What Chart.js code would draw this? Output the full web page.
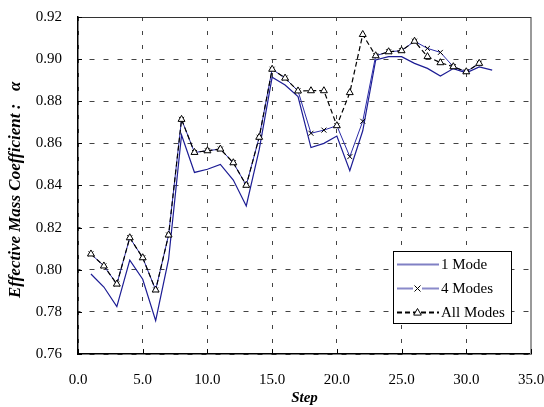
<!DOCTYPE html>
<html lang="en">
<head>
  <meta charset="UTF-8" />
  <title>Effective Mass Coefficient</title>
  <style>
    body {
      margin: 0;
      background: #fff;
    }
    #wrap {
      width: 544px;
      height: 407px;
    }
  </style>
  <script src="https://cdn.jsdelivr.net/npm/chart.js"></script>
</head>
<body>
  <div id="wrap"><canvas id="massChart" width="544" height="407"></canvas></div>

  <script>
    const steps = [1, 2, 3, 4, 5, 6, 7, 8, 9, 10, 11, 12, 13, 14, 15, 16,
                   17, 18, 19, 20, 21, 22, 23, 24, 25, 26, 27, 28, 29, 30, 31, 32];

    const oneMode = [0.798, 0.7918, 0.7825, 0.8046, 0.7955, 0.7758, 0.8050, 0.8640,
                     0.8462, 0.8477, 0.8500, 0.8426, 0.8303, 0.8570, 0.8914, 0.8877,
                     0.8822, 0.8580, 0.8600, 0.8635, 0.8470, 0.8660, 0.8996, 0.9012,
                     0.9012, 0.8980, 0.8956, 0.8920, 0.8955, 0.8935, 0.8963, 0.8948];

    const fourModes = [0.8075, 0.8018, 0.7932, 0.8152, 0.8057, 0.7904, 0.8165, 0.8714,
                       0.8557, 0.8565, 0.8573, 0.8508, 0.8401, 0.8629, 0.8952, 0.8910,
                       0.8849, 0.8648, 0.8663, 0.8684, 0.8537, 0.8705, 0.9016, 0.9035,
                       0.9040, 0.9085, 0.9051, 0.9032, 0.8964, 0.8940, 0.8980];

    const allModes = [0.8075, 0.8018, 0.7932, 0.8152, 0.8057, 0.7904, 0.8165, 0.8714,
                      0.8557, 0.8565, 0.8573, 0.8508, 0.8401, 0.8629, 0.8952, 0.8910,
                      0.8849, 0.8850, 0.8850, 0.8684, 0.8841, 0.9117, 0.9016, 0.9035,
                      0.9040, 0.9085, 0.9012, 0.8983, 0.8964, 0.8940, 0.8980];

    const xMin = 0, xMax = 35, xStep = 5;
    const yMin = 0.76, yMax = 0.92, yStep = 0.02;

    const serif = '"Liberation Serif", "Times New Roman", serif';

    const toPoints = vals => vals.map((v, i) => ({ x: steps[i], y: v }));

    // legend rows: label, line colour, dash, marker
    const legendRows = [
      { label: '1 Mode', color: '#8080c4', dash: [], marker: null },
      { label: '4 Modes', color: '#8a8aca', dash: [], marker: 'cross' },
      { label: 'All Modes', color: '#000', dash: [5, 3], marker: 'triangle' }
    ];

    function drawTriangle(ctx, x, y, r) {
      ctx.beginPath();
      ctx.moveTo(x, y - r);
      ctx.lineTo(x + r * 0.95, y + r * 0.65);
      ctx.lineTo(x - r * 0.95, y + r * 0.65);
      ctx.closePath();
      ctx.fillStyle = '#fff';
      ctx.fill();
      ctx.strokeStyle = '#000';
      ctx.lineWidth = 1;
      ctx.stroke();
    }

    function drawCross(ctx, x, y, r) {
      ctx.beginPath();
      ctx.moveTo(x - r, y - r);
      ctx.lineTo(x + r, y + r);
      ctx.moveTo(x + r, y - r);
      ctx.lineTo(x - r, y + r);
      ctx.strokeStyle = '#000';
      ctx.lineWidth = 1;
      ctx.stroke();
    }

    // top/right frame, inward tick marks and the boxed legend
    const framePlugin = {
      id: 'frame',
      afterDraw(chart) {
        const { ctx, chartArea: a, scales } = chart;
        ctx.save();

        ctx.strokeStyle = '#9a9a9a';
        ctx.lineWidth = 2;
        ctx.beginPath();
        ctx.moveTo(a.right, a.top);
        ctx.lineTo(a.right, a.bottom);
        ctx.stroke();

        ctx.strokeStyle = '#333';
        ctx.lineWidth = 1;
        ctx.beginPath();
        ctx.moveTo(a.left, a.top + 0.5);
        ctx.lineTo(a.right, a.top + 0.5);
        ctx.stroke();

        ctx.strokeStyle = '#000';
        ctx.beginPath();
        scales.x.ticks.forEach(t => {
          const px = Math.round(scales.x.getPixelForValue(t.value)) + 0.5;
          ctx.moveTo(px, a.bottom);
          ctx.lineTo(px, a.bottom - 5);
        });
        scales.y.ticks.forEach(t => {
          const py = Math.round(scales.y.getPixelForValue(t.value)) + 0.5;
          ctx.moveTo(a.left, py);
          ctx.lineTo(a.left + 4, py);
        });
        ctx.stroke();

        // legend box
        const bx = 393, by = 251, bw = 118, bh = 72;
        ctx.fillStyle = '#fff';
        ctx.fillRect(bx, by, bw, bh);
        ctx.strokeStyle = '#000';
        ctx.lineWidth = 1;
        ctx.strokeRect(bx + 0.5, by + 0.5, bw, bh);

        ctx.font = '15px ' + serif;
        ctx.textBaseline = 'middle';
        ctx.textAlign = 'left';
        legendRows.forEach((row, i) => {
          const ly = by + 13.5 + i * 24;
          ctx.strokeStyle = row.color;
          ctx.lineWidth = 2;
          ctx.setLineDash(row.dash);
          ctx.beginPath();
          ctx.moveTo(bx + 4, ly);
          ctx.lineTo(bx + 46, ly);
          ctx.stroke();
          ctx.setLineDash([]);
          if (row.marker === 'cross') {
            ctx.fillStyle = '#fff';
            ctx.fillRect(bx + 20, ly - 4, 9, 8);
            drawCross(ctx, bx + 24.5, ly, 3);
          } else if (row.marker === 'triangle') {
            drawTriangle(ctx, bx + 24.5, ly, 4);
          }
          ctx.fillStyle = '#000';
          ctx.fillText(row.label, bx + 48, ly + 1);
        });

        ctx.restore();
      }
    };

    const ctx = document.getElementById('massChart').getContext('2d');
    const massChart = new Chart(ctx, {
      type: 'line',
      data: {
        datasets: [
          {
            label: '1 Mode',
            data: toPoints(oneMode),
            borderColor: '#1c1c94',
            borderWidth: 1.2,
            pointRadius: 0,
            order: 3
          },
          {
            label: '4 Modes',
            data: toPoints(fourModes),
            borderColor: '#2a2aa6',
            borderWidth: 1,
            pointStyle: 'crossRot',
            pointRadius: 3.5,
            pointBorderColor: '#000',
            pointBorderWidth: 1,
            order: 2
          },
          {
            label: 'All Modes',
            data: toPoints(allModes),
            borderColor: '#000',
            borderWidth: 1.2,
            borderDash: [5, 3],
            pointStyle: 'triangle',
            pointRadius: 4,
            pointBackgroundColor: '#fff',
            pointBorderColor: '#000',
            pointBorderWidth: 1,
            order: 1
          }
        ]
      },
      options: {
        responsive: false,
        animation: false,
        layout: { padding: { top: 17, right: 13, left: 0, bottom: 0 } },
        plugins: {
          legend: { display: false },
          tooltip: { enabled: false }
        },
        elements: { line: { tension: 0, fill: false } },
        scales: {
          x: {
            type: 'linear',
            min: xMin,
            max: xMax,
            ticks: {
              stepSize: xStep,
              padding: 17,
              color: '#000',
              font: { family: serif, size: 15 },
              callback: v => Number(v).toFixed(1)
            },
            grid: { drawTicks: false, color: '#444', lineWidth: 1 },
            border: { color: '#000', width: 1.5, dash: [4, 10] },
            title: {
              display: true,
              text: 'Step',
              color: '#000',
              font: { family: serif, size: 15, weight: 'bold', style: 'italic' },
              padding: { top: 0, bottom: 0 }
            },
            afterFit(scale) {
              scale.height = 53;
              scale.paddingLeft = 0;
              scale.paddingRight = 0;
            }
          },
          y: {
            min: yMin,
            max: yMax,
            ticks: {
              stepSize: yStep,
              padding: 16,
              color: '#000',
              font: { family: serif, size: 15 },
              callback: v => Number(v).toFixed(2)
            },
            grid: { drawTicks: false, color: '#444', lineWidth: 1 },
            border: { color: '#000', width: 1.5, dash: [5, 9], dashOffset: 3 },
            title: {
              display: true,
              text: 'Effective Mass Coefficient :   α  ',
              color: '#000',
              font: { family: serif, size: 17, weight: 'bold', style: 'italic' },
              padding: { top: 5, bottom: 0 }
            },
            afterFit(scale) {
              scale.width = 78;
              scale.paddingTop = 0;
              scale.paddingBottom = 0;
            }
          }
        }
      },
      plugins: [framePlugin]
    });
  </script>
</body>
</html>
